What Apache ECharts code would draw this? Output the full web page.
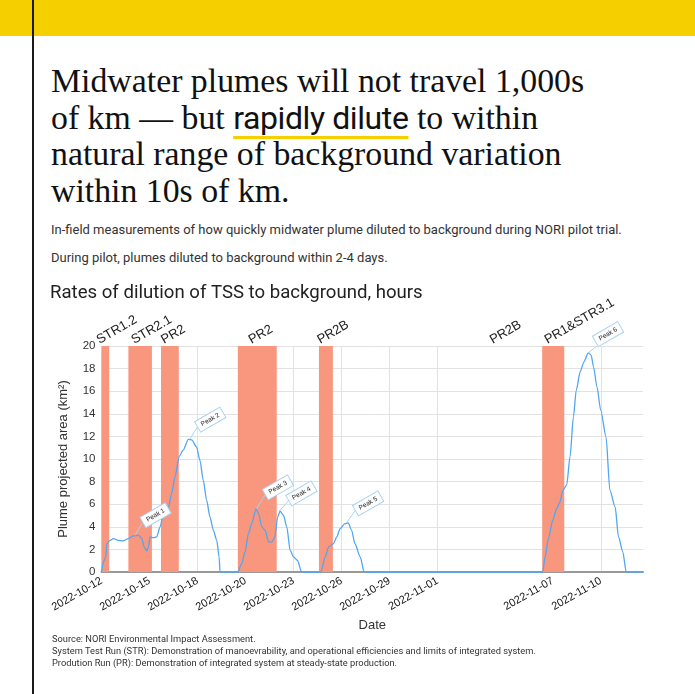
<!DOCTYPE html>
<html>
<head>
<meta charset="UTF-8">
<title>Midwater plume dilution</title>
<style>
  html, body { margin: 0; padding: 0; background: #fff; }
  #page { position: relative; width: 695px; height: 694px; overflow: hidden; }
  #topbar { position: absolute; left: 0; top: 0; width: 695px; height: 36px; background: #F6CF00; }
  #rule { position: absolute; left: 32px; top: 0; width: 2px; height: 694px; background: #1a1a1a; z-index: 5; }
  #headline { position: absolute; left: 51px; top: 63px; width: 640px; font-family: 'Liberation Serif', serif;
              font-size: 33.8px; line-height: 36.5px; color: #111; white-space: nowrap; }
  #headline .sans { font-family: Roboto, sans-serif; font-size: 32px; letter-spacing: -0.4px;
                    text-decoration: underline; text-decoration-color: #F6CF00;
                    text-decoration-thickness: 3px; text-underline-offset: 7px; }
  .sub { position: absolute; left: 51px; font-family: Roboto, sans-serif; font-size: 13px; line-height: 16px; color: #333; white-space: nowrap; }
  #footer { position: absolute; left: 52px; top: 633px; font-family: Roboto, sans-serif; font-size: 9.3px; line-height: 12px; color: #333; white-space: nowrap; }
  #main { position: absolute; left: 0; top: 270px; width: 695px; height: 424px; }
</style>
</head>
<body>
<div id="page">
  <div id="topbar"></div>
  <div id="rule"></div>
  <div id="headline">Midwater plumes will not travel 1,000s<br>of km — but <span class="sans">rapidly dilute</span> to within<br>natural range of background variation<br>within 10s of km.</div>
  <div class="sub" style="top:222px;">In-field measurements of how quickly midwater plume diluted to background during NORI pilot trial.</div>
  <div class="sub" style="top:250px;">During pilot, plumes diluted to background within 2-4 days.</div>
  <div id="main"></div>
  <div id="footer">Source: NORI Environmental Impact Assessment.<br>System Test Run (STR): Demonstration of manoevrability, and operational efficiencies and limits of integrated system.<br>Prodution Run (PR): Demonstration of integrated system at steady-state production.</div>
</div>

<script src="https://cdn.jsdelivr.net/npm/echarts@6/dist/echarts.min.js"></script>
<script>
// x runs in axis units (one unit = one labelled tick step on the original axis)
var tickPos = [0, 1, 2, 3, 4, 5, 6, 7, 9.4, 10.4];
var tickLabels = ['2022-10-12', '2022-10-15', '2022-10-18', '2022-10-20', '2022-10-23',
                  '2022-10-26', '2022-10-29', '2022-11-01', '2022-11-07', '2022-11-10'];
var xMax = 11.28;

// operation periods (red bands)
var bandStart = [0, 0.56, 1.24, 2.84, 4.53, 8.27, 9.18];
var bandEnd   = [0.16, 1.05, 1.61, 3.65, 4.82, 8.27, 9.64];
var bandNames = ['STR1.2', 'STR2.1', 'PR2', 'PR2', 'PR2B', 'PR2B', 'PR1&STR3.1'];

// plume projected area (km2)
var plumeX = [0.00, 0.04, 0.09, 0.11, 0.18, 0.25, 0.35, 0.45, 0.56, 0.66, 0.77, 0.84, 0.89, 0.94, 0.98,
              1.01, 1.08, 1.15, 1.22, 1.29, 1.39, 1.46, 1.53, 1.62, 1.70, 1.81, 1.88, 1.98, 2.05, 2.12,
              2.19, 2.26, 2.33, 2.40, 2.45, 2.47,
              2.84, 2.92, 2.99, 3.06, 3.13, 3.22, 3.27, 3.34, 3.41, 3.48, 3.55, 3.61, 3.67, 3.72, 3.79,
              3.86, 3.93, 4.00, 4.08, 4.17,
              4.57, 4.66, 4.73, 4.83, 4.90, 4.97, 5.07, 5.14, 5.21, 5.28, 5.39, 5.47,
              9.19, 9.24, 9.31, 9.40, 9.48, 9.55, 9.61, 9.69, 9.76, 9.83, 9.89, 9.97, 10.05, 10.14,
              10.20, 10.25, 10.32, 10.40, 10.51, 10.59, 10.70, 10.77, 10.86, 10.93, 11.28];
var plumeY = [0, 0.89, 1.33, 2.5, 2.8, 2.96, 2.8, 2.75, 2.96, 3.19, 3.25, 2.96, 2.21, 1.86, 2.2,
              3.1, 3.04, 3.1, 3.99, 5.17, 5.6, 6.94, 8.4, 10.25, 10.78, 11.73, 11.7, 11.07, 9.9, 8.12,
              6.35, 4.87, 3.69, 2.81, 1.33, 0,
              0, 0.74, 1.77, 3.4, 4.28, 5.6, 5.17, 3.99, 3.69, 2.66, 2.66, 3.1, 4.87, 5.38, 5.02,
              3.99, 1.92, 1.33, 1.04, 0,
              0, 1.33, 2.21, 2.5, 3.1, 3.84, 4.28, 4.34, 3.69, 2.5, 1.33, 0,
              0, 1.33, 2.95, 4.58, 5.6, 6.2, 7.23, 7.68, 10.2, 13.7, 16.1, 17.7, 18.6, 19.4,
              19.2, 18.15, 16.4, 14.3, 11.96, 7.24, 5.76, 3.1, 1.77, 0, 0];

// peak annotations
var peakNames = ['Peak 1', 'Peak 2', 'Peak 3', 'Peak 4', 'Peak 5', 'Peak 6'];
var peakX = [0.70, 1.84, 3.23, 3.70, 5.11, 10.14];
var peakY = [3.25, 11.75, 5.6, 5.38, 4.40, 19.4];
var tagX  = [0.86, 2.00, 3.41, 3.90, 5.29, 10.32];
var tagY  = [4.40, 12.86, 6.86, 6.33, 5.45, 20];

var myChart = echarts.init(document.getElementById('main'));

var lineData = plumeX.map(function (x, i) { return [x, plumeY[i]]; });

var areaData = bandStart.map(function (s, i) {
    var empty = bandEnd[i] - s <= 0;
    return [
        { name: bandNames[i], xAxis: s, itemStyle: { color: empty ? 'rgba(0,0,0,0)' : '#F9967E' } },
        { xAxis: bandEnd[i] }
    ];
});

var leaderData = peakNames.map(function (n, i) {
    return [{ coord: [peakX[i], peakY[i]] }, { coord: [tagX[i], tagY[i]] }];
});

var tagData = peakNames.map(function (n, i) {
    var d = { name: n, coord: [tagX[i], tagY[i]] };
    if (i === 5) d.label = { offset: [1, -5] };
    return d;
});

function tickLabel(v) {
    for (var i = 0; i < tickPos.length; i++) {
        if (Math.abs(tickPos[i] - v) < 1e-6) return tickLabels[i];
    }
    return '';
}

var option = {
    animation: false,
    textStyle: { fontFamily: "'Liberation Sans', Arial, sans-serif" },
    title: {
        text: 'Rates of dilution of TSS to background, hours',
        left: 45, top: 9,
        textStyle: { fontFamily: 'Roboto, sans-serif', fontSize: 18.6, fontWeight: 'normal', color: '#222' }
    },
    grid: { left: 101.5, right: 52, top: 76, bottom: 122 },
    xAxis: {
        type: 'value',
        min: 0, max: xMax,
        name: 'Date',
        nameLocation: 'middle',
        nameGap: 47,
        nameTextStyle: { fontSize: 13, color: '#333' },
        axisLine: { show: true, lineStyle: { color: '#999', width: 2 } },
        axisTick: { show: false, customValues: tickPos },
        axisLabel: {
            customValues: tickPos,
            rotate: 30, margin: 8,
            fontSize: 11, color: '#111',
            formatter: tickLabel
        },
        splitLine: { show: true, lineStyle: { color: '#e2e2e2', width: 1 } }
    },
    yAxis: {
        type: 'value',
        min: 0, max: 20, interval: 2,
        name: 'Plume projected area (km²)',
        nameLocation: 'middle',
        nameGap: 32,
        nameTextStyle: { fontSize: 13, color: '#333' },
        axisLine: { show: false },
        axisTick: { show: false },
        axisLabel: { fontSize: 11.5, color: '#333', margin: 6 },
        splitLine: { lineStyle: { color: '#e2e2e2', width: 1 } }
    },
    series: [
        {
            type: 'line',
            data: lineData,
            clip: false,
            showSymbol: false,
            smooth: 0.25,
            smoothMonotone: 'x',
            lineStyle: { color: '#4FA6F2', width: 1.3 },
            itemStyle: { color: '#4FA6F2' },
            z: 3,
            markArea: {
                silent: true,
                data: areaData,
                label: {
                    show: true, position: 'top', distance: 2,
                    align: 'left', verticalAlign: 'bottom',
                    rotate: 30, offset: [-5, 0],
                    fontSize: 13, color: '#222'
                }
            },
            markLine: {
                silent: true,
                symbol: ['none', 'none'],
                label: { show: false },
                lineStyle: { color: '#A9D2F3', width: 1, type: 'solid' },
                data: leaderData
            },
            markPoint: {
                silent: true,
                symbol: 'circle',
                symbolSize: 1,
                itemStyle: { color: 'rgba(0,0,0,0)' },
                label: {
                    show: true, formatter: '{b}',
                    position: 'right', distance: 0,
                    rotate: 30,
                    fontSize: 6.5, color: '#222',
                    backgroundColor: '#fff',
                    borderColor: '#A9D2F3', borderWidth: 1,
                    padding: [2, 4]
                },
                data: tagData
            }
        }
    ]
};

myChart.setOption(option);
</script>
</body>
</html>
